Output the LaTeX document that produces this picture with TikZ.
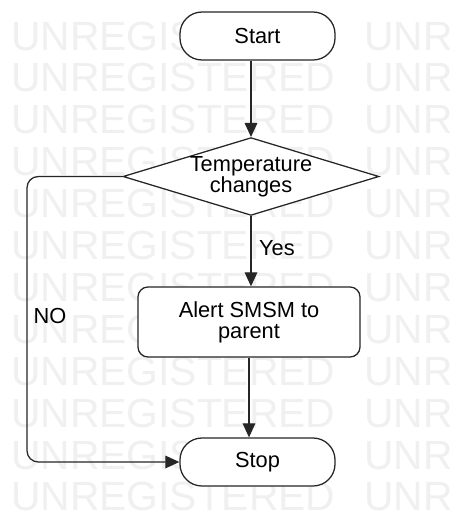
\documentclass[tikz,border=0pt]{standalone}
\usepackage{fontspec}
\setmainfont{Liberation Sans}
\usetikzlibrary{arrows.meta,shapes.geometric}
\tikzset{
	terminal/.style={draw=black!85, fill=white, line width=0.9pt, rounded corners=0.55cm,
		minimum width=3.875cm, minimum height=1.2cm, font=\fontsize{15.5}{15}\selectfont},
	decision/.style={draw=black!85, fill=white, line width=0.9pt, diamond, aspect=3.29, inner sep=0pt,
		minimum width=6.3cm, minimum height=1.93cm, align=center, font=\fontsize{15.5}{15}\selectfont},
	process/.style={draw=black!85, fill=white, line width=0.9pt, rounded corners=0.25cm,
		minimum width=5.55cm, minimum height=1.75cm, align=center, font=\fontsize{15.5}{15}\selectfont},
	flow/.style={draw=black!85, line width=0.9pt, -{Triangle[length=10pt,width=9pt]}},
	lbl/.style={font=\fontsize{15.5}{15}\selectfont},
	wmark/.style={text=black!6, inner sep=0pt, font=\fontsize{29}{29}\selectfont}
}

\begin{document}
\begin{tikzpicture}[x=0.025cm, y=-0.025cm]
		%%%%% START %%%%%
		\useasboundingbox[fill=white] (0, 0) rectangle (449, 515);
		
		% watermark
		\foreach \i in {0,...,11} {
			\node[wmark, anchor=base west] (wma\i) at (11, {50 + 41.9*\i}) {UNREGISTERED};
			\node[wmark, anchor=base west] (wmb\i) at (364, {50 + 41.9*\i}) {UNR};
		}
		
		\node[terminal] (start) at (257.5, 36) {Start};
		\node[decision] (temp) at (251, 176.5) {Temperature\\changes};
		\node[process] (alert) at (249, 322) {Alert SMSM to\\parent};
		\node[terminal] (stop) at (257.5, 462) {Stop};
		
		\coordinate (nobend) at (27, 176.5);
		
		\draw[flow] (start.south -| temp.north) -- (temp.north);
		\draw[flow] (temp.south) -- node[lbl, right=2pt, pos=0.45] (yes) {Yes} (temp.south |- alert.north);
		\draw[flow] (alert.south) -- (alert.south |- stop.north);
		\draw[flow, rounded corners=8pt] (temp.west) -- (nobend) -- (nobend |- stop.west) -- (stop.west);
		
		\node[lbl] (no) at (50, 316) {NO};
		
		%%%%% END %%%%%
	\end{tikzpicture}
\end{document}
